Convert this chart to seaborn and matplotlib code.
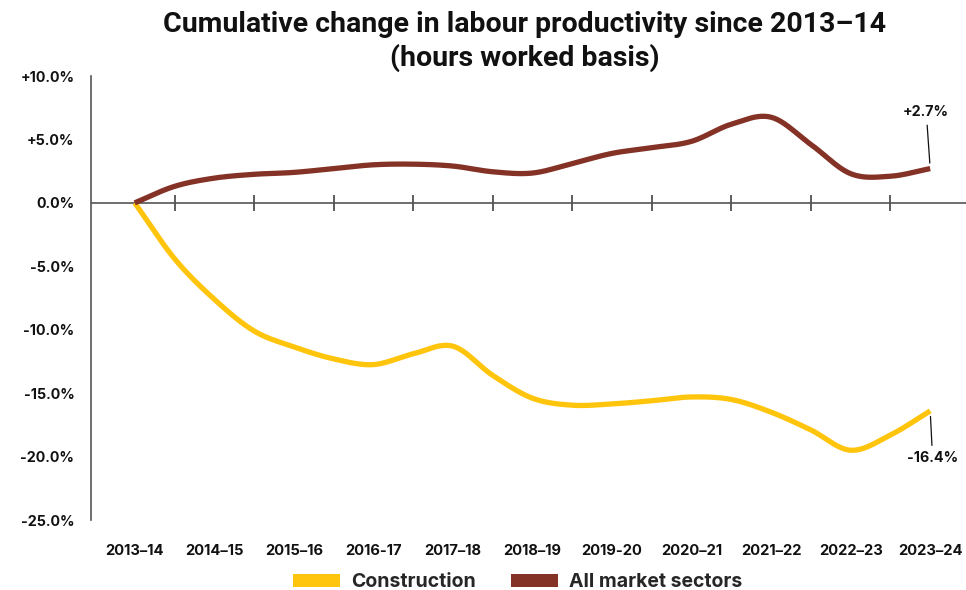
import numpy as np
import pandas as pd
import matplotlib
matplotlib.use("Agg")
import matplotlib.pyplot as plt
from matplotlib.patches import Patch
import seaborn as sns

# ---- data ----
categories = ["2013–14", "2014–15", "2015–16", "2016-17", "2017–18", "2018–19",
              "2019-20", "2020–21", "2021–22", "2022–23", "2023–24"]
# values sampled every half financial year (position 0 = 2013-14, 10 = 2023-24)
positions = [0, 0.5, 1, 1.5, 2, 2.5, 3, 3.5, 4, 4.5, 5, 5.5, 6, 6.5, 7, 7.5, 8, 8.5, 9, 9.5, 10]
construction = [0.0, -4.4, -7.6, -10.1, -11.35, -12.3, -12.75, -11.9, -11.3, -13.6, -15.4,
                -15.95, -15.85, -15.6, -15.3, -15.5, -16.5, -17.9, -19.5, -18.3, -16.4]
all_market = [0.0, 1.3, 1.95, 2.25, 2.4, 2.7, 3.0, 3.05, 2.9, 2.45, 2.35,
              3.1, 3.9, 4.35, 4.85, 6.2, 6.75, 4.6, 2.3, 2.1, 2.7]
series_names = ["Construction", "All market sectors"]
colors = ["#FFC40C", "#843126"]
y_ticks = [10, 5, 0, -5, -10, -15, -20, -25]
y_labels = ["+10.0%", "+5.0%", "0.0%", "-5.0%", "-10.0%", "-15.0%", "-20.0%", "-25.0%"]
end_labels = ["-16.4%", "+2.7%"]


def catmull_rom(xs, ys, n=24):
    pts = np.column_stack([xs, ys]).astype(float)
    ext = np.vstack([2 * pts[0] - pts[1], pts, 2 * pts[-1] - pts[-2]])
    out = []
    t = np.linspace(0, 1, n, endpoint=False)[:, None]
    for k in range(1, len(ext) - 2):
        p0, p1, p2, p3 = ext[k - 1:k + 3]
        seg = 0.5 * ((2 * p1) + (-p0 + p2) * t + (2 * p0 - 5 * p1 + 4 * p2 - p3) * t ** 2
                     + (-p0 + 3 * p1 - 3 * p2 + p3) * t ** 3)
        out.append(seg)
    out.append(pts[-1:])
    return np.vstack(out)


frames = []
for name, vals in zip(series_names, [construction, all_market]):
    sm = catmull_rom(positions, vals)
    frames.append(pd.DataFrame({"pos": sm[:, 0], "value": sm[:, 1], "series": name,
                                "order": np.arange(len(sm))}))
df = pd.concat(frames, ignore_index=True)

sns.set_theme(style="white")
plt.rcParams["font.family"] = ["Inter", "DejaVu Sans"]

fig = plt.figure(figsize=(9.66, 5.9), dpi=100)
ax = fig.add_axes([91 / 966, 70 / 590, (966 - 91) / 966, (520 - 76) / 590])

sns.lineplot(data=df, x="pos", y="value", hue="series", palette=dict(zip(series_names, colors)),
             sort=False, estimator=None, units="series", linewidth=3.8, legend=False, ax=ax,
             solid_capstyle="butt")

ax.set_xlim(-0.55, 10.45)
ax.set_ylim(-25, 10)

# axes styling
for s in ["top", "right", "bottom"]:
    ax.spines[s].set_visible(False)
ax.spines["left"].set_color("#555555")
ax.spines["left"].set_linewidth(1.2)
ax.set_xlabel("")
ax.set_ylabel("")

ax.set_yticks(y_ticks)
ax.set_yticklabels(y_labels)
ax.tick_params(axis="y", length=0, pad=12, labelsize=10.3, labelcolor="#111111")
ax.set_xticks(range(len(categories)))
ax.set_xticklabels(categories)
ax.tick_params(axis="x", length=0, pad=17, labelsize=10.6, labelcolor="#111111")
for lab in ax.get_xticklabels() + ax.get_yticklabels():
    lab.set_fontweight("bold")

# zero line with boundary ticks
ax.axhline(0, color="#555555", linewidth=1.2, zorder=1)
sec = ax.secondary_xaxis(25 / 35)
sec.set_xticks([i + 0.5 for i in range(len(categories) - 1)])
sec.tick_params(axis="x", direction="inout", length=11, width=1.1, color="#333333",
                labelbottom=False, labeltop=False)
sec.set_xticklabels([])
sec.spines["bottom"].set_visible(False)
sec.spines["top"].set_visible(False)

# end labels with leader lines
last = len(categories) - 1
ax.annotate(end_labels[1], xy=(last, all_market[-1]), xytext=(last - 0.05, 6.6),
            ha="center", va="bottom", fontsize=10.3, fontweight="bold", color="#111111",
            arrowprops=dict(arrowstyle="-", color="#111111", lw=0.9, shrinkA=2, shrinkB=4))
ax.annotate(end_labels[0], xy=(last, construction[-1]), xytext=(last + 0.03, -19.6),
            ha="center", va="top", fontsize=10.3, fontweight="bold", color="#111111",
            arrowprops=dict(arrowstyle="-", color="#111111", lw=0.9, shrinkA=2, shrinkB=4))

fig.suptitle("Cumulative change in labour productivity since 2013–14\n(hours worked basis)",
             x=0.543, y=0.982, fontsize=20.5, fontweight="bold", color="#111111",
             linespacing=1.3, family=["Roboto", "DejaVu Sans"])

handles = [Patch(facecolor=c, edgecolor="none") for c in colors]
fig.legend(handles, series_names, loc="center", bbox_to_anchor=(0.536, 0.013),
           ncol=2, frameon=False, handlelength=2.4, handleheight=0.7,
           handletextpad=0.6, columnspacing=1.8, borderaxespad=0,
           prop={"size": 14, "weight": "bold", "family": ["Inter", "DejaVu Sans"]})

fig.savefig("out.png", dpi=100)
